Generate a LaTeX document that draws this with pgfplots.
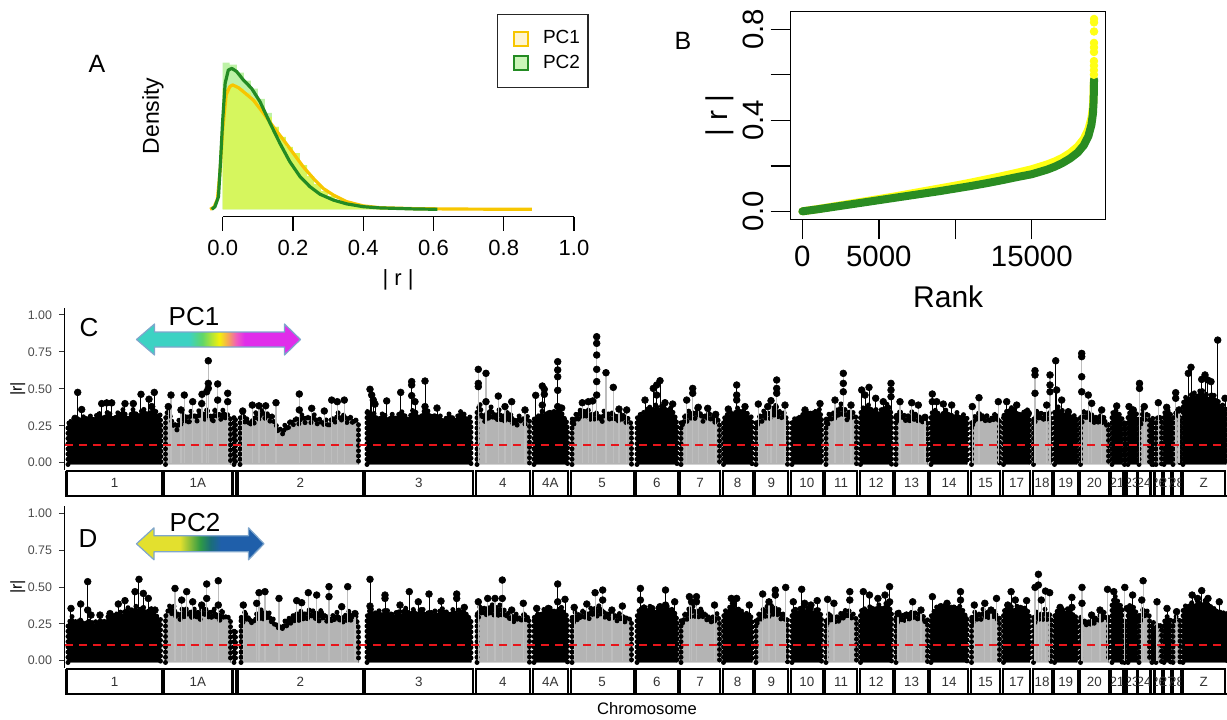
\documentclass[border=0pt]{standalone}
\usepackage{pgfplots}
\pgfplotsset{compat=1.18}
\usepackage{fontspec}
\setmainfont{Liberation Sans}

\definecolor{pcgold}{HTML}{F7C600}
\definecolor{pcgreen}{HTML}{238B23}
\definecolor{histlime}{HTML}{D6F65E}
\definecolor{histgreen}{HTML}{BDF2A6}
\definecolor{byellow}{HTML}{FFFF14}
\definecolor{bgreen}{HTML}{2A8C22}
\definecolor{chrgray}{HTML}{B4B4B4}
\definecolor{stemgray}{HTML}{BEBEBE}
\definecolor{dashred}{HTML}{E8151B}
\definecolor{arrowedge}{HTML}{7FA6CC}
\definecolor{aTeal}{HTML}{3CD2C3}
\definecolor{aGreen}{HTML}{5FD66A}
\definecolor{aYellow}{HTML}{F4F10A}
\definecolor{aOrange}{HTML}{F6A45A}
\definecolor{aPink}{HTML}{F05AC0}
\definecolor{aMag}{HTML}{E02DEA}
\definecolor{bYel}{HTML}{E3E02E}
\definecolor{bGrn}{HTML}{2E9A45}
\definecolor{bTeal}{HTML}{1A6E78}
\definecolor{bBlue}{HTML}{1F5FAA}

\pgfdeclarehorizontalshading{pcone}{100bp}{color(0bp)=(aTeal); color(41bp)=(aTeal); color(45bp)=(aGreen); color(50.25bp)=(aYellow); color(53bp)=(aOrange); color(55.5bp)=(aPink); color(58bp)=(aMag); color(100bp)=(aMag)}
\pgfdeclarehorizontalshading{pctwo}{100bp}{color(0bp)=(bYel); color(42bp)=(bYel); color(50bp)=(bGrn); color(54bp)=(bTeal); color(58bp)=(bBlue); color(100bp)=(bBlue)}

\tikzset{dotedge/.style={postaction={draw=black, line width=2.5pt, line cap=round, dash pattern=on 0pt off 2.6pt}}}
\newcommand{\envB}[1]{\addplot[fill=black,draw=black,line width=0.7pt,line join=round,dotedge] coordinates {#1};}
\newcommand{\envG}[1]{\addplot[fill=chrgray,draw=black,line width=0.7pt,line join=round,dotedge] coordinates {#1};}
\newcommand{\pkB}[1]{\addplot[ycomb,draw=black,line width=0.5pt,mark=*,mark size=1.7pt,mark options={fill=black,draw=black,line width=0.3pt}] coordinates {#1};}
\newcommand{\pkG}[1]{\addplot[ycomb,draw=stemgray,line width=0.6pt,mark=*,mark size=1.7pt,mark options={fill=black,draw=black,line width=0.3pt}] coordinates {#1};}

\pgfplotsset{manh/.style={anchor=south west, scale only axis, width=581pt,
  xmin=65, xmax=1227, ymin=-0.05, ymax=1.05,
  axis x line=none, axis y line*=left, y axis line style={-,line width=0.5pt,black},
  xtick=\empty, ytick={0,0.25,0.5,0.75,1}, yticklabels={0.00,0.25,0.50,0.75,1.00},
  tick align=outside, major tick length=3pt, tick style={black!80,line width=0.5pt},
  yticklabel style={font=\fontsize{6.2}{7}\selectfont, text=black!70},
  ylabel={|r|}, ylabel style={font=\fontsize{8}{9}\selectfont, at={(axis description cs:-0.0406,0.5)}, anchor=center},
  clip=false}}

\begin{document}
\begin{tikzpicture}
\useasboundingbox (0pt,0pt) rectangle (613.5pt,359.5pt);

% ---------------- Panel A ----------------
\begin{axis}[at={(111.35pt,251.15pt)}, anchor=south west, scale only axis,
  width=175.65pt, height=79.07pt, xmin=0, xmax=1, ymin=-0.368, ymax=7.5,
  axis x line*=bottom, axis y line=none, x axis line style={-,line width=0.55pt},
  xtick={0,0.2,0.4,0.6,0.8,1}, xticklabels={0.0,0.2,0.4,0.6,0.8,1.0}, ytick=\empty,
  tick align=outside, major tick length=7pt, tick style={black,line width=0.55pt},
  xticklabel style={font=\fontsize{11}{13}\selectfont, yshift=-1pt},
  xlabel={| r |}, xlabel style={font=\fontsize{11}{13}\selectfont, at={(axis description cs:0.499,-0.40)}, anchor=center},
  clip=false,
  legend image code/.code={\path (0pt,0pt); \draw[#1] (6pt,-3.5pt) rectangle (13pt,3.5pt);},
  legend style={at={(0.78,1.2817)}, anchor=north west, draw=black!85, line width=0.7pt,
    font=\fontsize{9.5}{11}\selectfont, inner xsep=2pt, inner ysep=6pt, row sep=0pt,
    nodes={inner sep=2pt}, column sep=5pt},
  legend cell align=left]
% PC2 histogram
\addplot[forget plot, const plot mark left, fill=histgreen, draw=none] coordinates {
(0,0) (0,7.3) (0.02,7.2) (0.04,6.8) (0.06,6.4) (0.08,6.0) (0.10,5.5) (0.12,4.8) (0.14,4.1)
(0.16,3.4) (0.18,2.7) (0.20,2.1) (0.22,1.6) (0.24,1.2) (0.26,0.85) (0.28,0.6) (0.30,0.42)
(0.32,0.3) (0.34,0.2) (0.36,0.14) (0.38,0.1) (0.40,0.07) (0.42,0.05) (0.44,0.04) (0.46,0.03)
(0.48,0.02) (0.50,0.01) (0.6,0)};
% PC1 histogram
\addplot[forget plot, const plot mark left, fill=histlime, draw=none] coordinates {
(0,0) (0,6.0) (0.02,6.2) (0.04,6.0) (0.06,5.8) (0.08,5.5) (0.10,5.1) (0.12,4.6) (0.14,4.1)
(0.16,3.6) (0.18,3.1) (0.20,2.8) (0.22,2.2) (0.24,1.65) (0.26,1.25) (0.28,0.9) (0.30,0.65)
(0.32,0.45) (0.34,0.32) (0.36,0.22) (0.38,0.15) (0.40,0.1) (0.42,0.07) (0.44,0.05) (0.46,0.04)
(0.50,0.03) (0.56,0.02) (0.64,0.01) (0.88,0)};
% PC1 density
\addplot[forget plot, pcgold, line width=1.6pt, line join=round] coordinates {
(-0.036,0) (-0.025,0.1) (-0.015,0.5) (-0.007,2.0) (0,4.0) (0.01,5.7) (0.02,6.1) (0.028,6.19)
(0.045,6.05) (0.059,5.85) (0.087,5.44) (0.116,4.78) (0.144,4.11) (0.173,3.45) (0.201,2.79)
(0.229,2.12) (0.258,1.54) (0.286,1.04) (0.315,0.71) (0.353,0.38) (0.400,0.17) (0.447,0.08)
(0.55,0.03) (0.70,0.01) (0.88,0)};
% PC2 density
\addplot[forget plot, pcgreen, line width=1.6pt, line join=round] coordinates {
(-0.031,0) (-0.022,0.13) (-0.012,0.63) (-0.006,2.45) (0,4.44) (0.007,6.27) (0.016,6.93)
(0.026,7.01) (0.040,6.85) (0.059,6.43) (0.082,6.02) (0.106,5.36) (0.135,4.28) (0.163,3.28)
(0.191,2.37) (0.220,1.63) (0.248,1.13) (0.277,0.75) (0.315,0.46) (0.353,0.27) (0.400,0.13)
(0.447,0.07) (0.542,0.02) (0.611,0)};
\addlegendimage{draw=pcgold, fill=pcgold!18, line width=0.8pt}
\addlegendentry{PC1}
\addlegendimage{draw=pcgreen, fill=histgreen!80, line width=0.8pt}
\addlegendentry{PC2}
\end{axis}

% ---------------- Panel B ----------------
\begin{axis}[at={(395.35pt,249.85pt)}, anchor=south west, scale only axis,
  width=157.5pt, height=103.8pt, xmin=-763, xmax=19833, ymin=-0.035, ymax=0.877,
  axis line style={line width=0.7pt}, tick pos=left, tick align=outside, major tick length=10pt,
  tick style={black, line width=0.7pt}, scaled x ticks=false, scaled y ticks=false,
  xtick={0,5000,10000,15000}, xticklabels={0,5000,{},15000},
  ytick={0,0.2,0.4,0.6,0.8}, yticklabels={0.0,{},0.4,{},0.8},
  tick label style={font=\fontsize{14.7}{16}\selectfont},
  yticklabel style={rotate=90, anchor=south},
  xlabel={Rank}, xlabel style={font=\fontsize{15}{17}\selectfont, at={(axis description cs:0.5,-0.373)}, anchor=center},
  ylabel={| r |}, ylabel style={font=\fontsize{15}{17}\selectfont, at={(axis description cs:-0.2244,0.5)}, anchor=center}]
\addplot[byellow, line width=4pt, line cap=round, line join=round] coordinates {
(0,0) (1000,0.010) (2000,0.021) (3000,0.032) (4000,0.043) (5000,0.054) (6000,0.065)
(7000,0.077) (8000,0.089) (9000,0.101) (10000,0.113) (11000,0.126) (12000,0.140)
(13000,0.154) (14000,0.169) (15000,0.185) (16000,0.206) (16500,0.219) (17000,0.235)
(17500,0.256) (18000,0.284) (18400,0.318) (18700,0.36) (18900,0.41) (19000,0.46)
(19040,0.52) (19060,0.58)};
\addplot[only marks, mark=*, mark size=1.9pt, byellow] coordinates {
(19062,0.60) (19063,0.62) (19064,0.64) (19065,0.66) (19066,0.70) (19067,0.72)
(19068,0.74) (19069,0.79) (19070,0.83) (19071,0.845)};
\addplot[bgreen, line width=4pt, line cap=round, line join=round] coordinates {
(0,0) (1000,0.009) (2000,0.019) (3000,0.029) (4000,0.039) (5000,0.049) (6000,0.059)
(7000,0.069) (8000,0.079) (9000,0.089) (10000,0.10) (11000,0.111) (12000,0.123)
(13000,0.136) (14000,0.150) (15000,0.163) (16000,0.183) (16500,0.196) (17000,0.212)
(17500,0.232) (18000,0.258) (18400,0.29) (18700,0.33) (18900,0.38) (19000,0.43)
(19040,0.48) (19060,0.53) (19070,0.58)};
\end{axis}

% ---------------- Panel C ----------------
\begin{axis}[manh, at={(32.5pt,124.46pt)}, height=81.235pt]
\envB{(68,-0.012)(68,0.25)(70,0.29)(72,0.26)(74,0.27)(76,0.30)(78,0.31)(80,0.27)(82,0.29)(84,0.32)(86,0.30)(88,0.28)(90,0.32)(93,0.29)(95,0.30)(98,0.34)(100,0.33)(103,0.29)(105,0.31)(108,0.35)(110,0.33)(113,0.29)(115,0.30)(118,0.34)(120,0.32)(123,0.36)(125,0.33)(128,0.30)(130,0.31)(133,0.36)(135,0.34)(138,0.31)(140,0.33)(143,0.37)(145,0.35)(148,0.32)(150,0.34)(153,0.37)(155,0.36)(158,0.31)(160,0.33)(161,0.25)(161,-0.012)}
\envG{(165.5,-0.012)(165.5,0.30)(168,0.36)(171,0.30)(173,0.25)(175,0.27)(177,0.22)(179,0.29)(181,0.26)(183,0.34)(185,0.28)(187,0.31)(189,0.26)(191,0.35)(193,0.30)(195,0.33)(197,0.28)(199,0.36)(201,0.31)(203,0.34)(205,0.29)(207,0.37)(209,0.30)(211,0.32)(213,0.27)(215,0.37)(217,0.31)(219,0.33)(221,0.29)(223,0.36)(225,0.30)(227,0.33)(230.5,0.30)(230.5,-0.012)}
\envB{(234,-0.012)(234,0.31)(235.5,0.31)(235.5,-0.012)}
\envG{(240,-0.012)(240,0.30)(243,0.34)(245,0.27)(247,0.30)(250,0.25)(252,0.29)(254,0.26)(256,0.35)(259,0.29)(262,0.36)(265,0.30)(268,0.34)(270,0.28)(272,0.33)(274,0.27)(276,0.26)(278,0.21)(280,0.23)(283,0.19)(285,0.26)(288,0.22)(290,0.29)(293,0.25)(296,0.31)(299,0.26)(302,0.33)(305,0.27)(308,0.32)(311,0.27)(314,0.33)(317,0.26)(320,0.30)(323,0.25)(326,0.29)(329,0.24)(332,0.31)(335,0.27)(338,0.34)(341,0.28)(344,0.33)(347,0.27)(350,0.32)(353,0.26)(355,0.30)(358.5,0.26)(358.5,-0.012)}
\envB{(367,-0.012)(367,0.36)(370,0.30)(372,0.34)(375,0.33)(377,0.29)(380,0.30)(383,0.34)(386,0.31)(389,0.28)(392,0.33)(395,0.30)(398,0.32)(401,0.35)(404,0.33)(407,0.29)(410,0.31)(413,0.36)(416,0.34)(419,0.30)(422,0.32)(425,0.36)(428,0.35)(431,0.30)(434,0.33)(437,0.29)(440,0.32)(443,0.28)(446,0.30)(449,0.33)(452,0.31)(455,0.28)(458,0.32)(461,0.35)(464,0.33)(467,0.29)(470,0.31)(471,0.25)(471,-0.012)}
\envG{(477,-0.012)(477,0.34)(480,0.40)(482,0.30)(483,0.33)(485,0.27)(487,0.35)(489,0.29)(491,0.38)(493,0.30)(495,0.33)(497,0.28)(499,0.36)(501,0.29)(503,0.32)(505,0.27)(507,0.35)(509,0.28)(511,0.33)(513,0.26)(515,0.30)(517,0.25)(519,0.32)(521,0.27)(523,0.31)(525,0.26)(527,0.32)(529.5,0.28)(529.5,-0.012)}
\envB{(534,-0.012)(534,0.30)(536,0.27)(538,0.33)(540,0.30)(542,0.35)(544,0.31)(546,0.32)(548,0.35)(550,0.34)(552,0.31)(554,0.36)(556,0.33)(558,0.34)(560,0.37)(562,0.33)(564,0.30)(566,0.30)(567.5,0.22)(567.5,-0.012)}
\envG{(572,-0.012)(572,0.30)(574,0.26)(576,0.33)(578,0.28)(580,0.36)(582,0.30)(584,0.36)(586,0.31)(588,0.37)(590,0.29)(592,0.33)(594,0.28)(596,0.35)(598,0.29)(600,0.32)(602,0.27)(604,0.35)(606,0.30)(608,0.34)(610,0.28)(612,0.35)(614,0.29)(616,0.32)(618,0.27)(620,0.34)(622,0.29)(624,0.33)(626,0.27)(628,0.30)(631.5,0.26)(631.5,-0.012)}
\envB{(637,-0.012)(637,0.30)(640,0.33)(642,0.30)(644,0.35)(646,0.32)(648,0.34)(650,0.38)(652,0.37)(654,0.34)(656,0.40)(658,0.35)(660,0.36)(662,0.39)(664,0.38)(666,0.33)(668,0.35)(670,0.38)(672,0.36)(674,0.32)(676,0.30)(677,0.24)(677,-0.012)}
\envG{(681,-0.012)(681,0.28)(683,0.25)(685,0.33)(687,0.28)(689,0.36)(691,0.30)(693,0.35)(695,0.30)(697,0.38)(699,0.31)(701,0.34)(703,0.28)(705,0.33)(707,0.29)(709,0.35)(711,0.28)(713,0.32)(715,0.27)(717,0.31)(719.5,0.26)(719.5,-0.012)}
\envB{(723.5,-0.012)(723.5,0.28)(725,0.31)(727,0.33)(729,0.30)(731,0.35)(733,0.32)(735,0.33)(737,0.37)(739,0.37)(741,0.33)(743,0.36)(745,0.33)(747,0.34)(749,0.30)(751,0.32)(752,0.26)(752,-0.012)}
\envG{(756,-0.012)(756,0.28)(758,0.25)(760,0.33)(762,0.28)(764,0.36)(766,0.30)(768,0.35)(770,0.30)(772,0.38)(774,0.32)(776,0.40)(778,0.31)(780,0.36)(782,0.29)(784,0.34)(787.5,0.28)(787.5,-0.012)}
\envB{(792,-0.012)(792,0.28)(795,0.30)(797,0.27)(799,0.32)(801,0.30)(803,0.33)(805,0.30)(807,0.35)(809,0.32)(811,0.34)(813,0.31)(815,0.36)(817,0.33)(819,0.37)(821.5,0.30)(821.5,-0.012)}
\envG{(826,-0.012)(826,0.30)(828,0.26)(829,0.33)(831,0.28)(833,0.35)(835,0.29)(837,0.37)(839,0.31)(841,0.40)(843,0.31)(845,0.36)(847,0.29)(849,0.35)(851,0.29)(853,0.34)(856.5,0.30)(856.5,-0.012)}
\envB{(860.5,-0.012)(860.5,0.33)(862,0.36)(864,0.38)(866,0.35)(868,0.40)(870,0.36)(872,0.37)(874,0.34)(876,0.36)(878,0.33)(880,0.34)(882,0.37)(884,0.36)(886,0.39)(888,0.40)(890,0.35)(891.5,0.33)(891.5,-0.012)}
\envG{(896,-0.012)(896,0.33)(898,0.28)(900,0.36)(902,0.29)(904,0.33)(906,0.27)(908,0.32)(910,0.28)(912,0.35)(914,0.29)(916,0.34)(918,0.28)(920,0.32)(922,0.27)(924,0.30)(927.5,0.28)(927.5,-0.012)}
\envB{(931,-0.012)(931,0.32)(933,0.35)(935,0.36)(937,0.33)(939,0.34)(941,0.31)(943,0.33)(945,0.36)(947,0.35)(949,0.32)(951,0.33)(953,0.30)(955,0.32)(957,0.34)(959,0.31)(961,0.29)(963,0.33)(965,0.31)(967,0.30)(967,-0.012)}
\envG{(971.5,-0.012)(971.5,0.28)(973,0.25)(975,0.32)(977,0.28)(979,0.35)(981,0.29)(983,0.33)(985,0.28)(987,0.32)(989,0.27)(991,0.31)(993,0.28)(995,0.34)(997,0.29)(999.5,0.30)(999.5,-0.012)}
\envB{(1003.5,-0.012)(1003.5,0.33)(1005,0.30)(1007,0.36)(1009,0.33)(1011,0.38)(1013,0.35)(1015,0.36)(1017,0.33)(1019,0.34)(1021,0.31)(1023,0.35)(1025,0.33)(1027,0.37)(1029.5,0.30)(1029.5,-0.012)}
\envG{(1033.5,-0.012)(1033.5,0.30)(1035,0.27)(1037,0.36)(1039,0.29)(1041,0.34)(1043,0.28)(1045,0.33)(1047,0.28)(1049,0.35)(1051,0.30)(1051,-0.012)}
\envB{(1054.5,-0.012)(1054.5,0.35)(1056,0.32)(1058,0.38)(1060,0.34)(1062,0.36)(1064,0.32)(1066,0.34)(1068,0.31)(1070,0.33)(1072,0.30)(1074,0.32)(1077,0.30)(1077,-0.012)}
\envG{(1080.5,-0.012)(1080.5,0.32)(1082,0.27)(1084,0.36)(1086,0.29)(1088,0.34)(1090,0.28)(1092,0.33)(1094,0.27)(1096,0.32)(1098,0.27)(1100,0.33)(1102,0.26)(1104,0.31)(1106,0.25)(1108.5,0.27)(1108.5,-0.012)}
\envB{(1112,-0.012)(1112,0.33)(1115,0.36)(1118,0.34)(1122,0.30)(1122,-0.012)}
\envG{(1124.5,-0.012)(1124.5,0.28)(1125.5,0.28)(1125.5,-0.012)}
\envB{(1128,-0.012)(1128,0.32)(1132,0.36)(1136.5,0.33)(1136.5,-0.012)}
\envG{(1139,-0.012)(1139,0.30)(1141,0.26)(1143,0.36)(1145,0.29)(1147,0.34)(1149.5,0.30)(1149.5,-0.012)}
\envB{(1152,-0.012)(1152,0.30)(1153.5,0.30)(1153.5,-0.012)}
\envG{(1156,-0.012)(1156,0.28)(1158.5,0.32)(1161.5,0.29)(1161.5,-0.012)}
\envB{(1164,-0.012)(1164,0.33)(1167,0.36)(1170.5,0.34)(1170.5,-0.012)}
\envG{(1173,-0.012)(1173,0.30)(1176,0.34)(1180,0.30)(1180,-0.012)}
\envB{(1183,-0.012)(1183,0.40)(1185,0.43)(1186,0.45)(1188,0.41)(1190,0.44)(1192,0.47)(1194,0.48)(1196,0.43)(1198,0.45)(1200,0.49)(1202,0.50)(1204,0.45)(1206,0.47)(1208,0.43)(1210,0.44)(1212,0.47)(1214,0.46)(1216,0.41)(1218,0.42)(1220,0.38)(1222,0.40)(1224,0.37)(1226,0.36)(1226,-0.012)}
% peaks, black chromosomes
\pkB{(75,0.30)(77.7,0.476)(81.7,0.36)(101.7,0.40)(106.7,0.405)(111.7,0.405)(125,0.40)(133.3,0.40)(141,0.463)(149,0.43)(151.7,0.38)(154.3,0.476)
(370,0.497)(371.7,0.458)(373.3,0.424)(375,0.397)(386.7,0.418)(400.7,0.476)(411.7,0.549)(411.7,0.526)(411.7,0.454)(415,0.413)(425,0.553)(425,0.38)(437,0.37)
(535.7,0.456)(542.3,0.519)(542.3,0.39)(544.3,0.497)(544.3,0.463)(557.7,0.684)(557.7,0.628)(557.7,0.582)(557.7,0.49)(557.7,0.38)(561.7,0.37)
(645,0.424)(648.3,0.357)(653.3,0.503)(656.7,0.526)(656.7,0.458)(660,0.555)(665,0.406)(672.7,0.397)
(728.3,0.363)(736.7,0.526)(736.7,0.458)(736.7,0.424)(745,0.38)
(805,0.357)(820,0.40)
(861.7,0.492)(865,0.458)(869,0.51)(875.7,0.436)(883.3,0.413)(891,0.537)(891,0.492)(891,0.447)
(932.3,0.465)(932.3,0.413)(936.7,0.413)(943.3,0.397)(951.7,0.39)
(1006.7,0.413)(1016.7,0.39)(1028.3,0.334)
(1055.7,0.69)(1056.7,0.492)(1061.7,0.424)(1068.3,0.345)
(1116.7,0.384)(1129,0.38)(1133.3,0.357)(1166.7,0.375)
(1188.3,0.605)(1191,0.646)(1201.7,0.564)(1205,0.594)(1207.7,0.56)(1211,0.549)(1217.7,0.83)(1225,0.436)}
% peaks, grey chromosomes
\pkG{(168.3,0.38)(171,0.458)(181,0.357)(184.3,0.458)(192.7,0.413)(201.7,0.40)(202,0.463)(206.7,0.48)(208.3,0.69)(208.3,0.537)(208.3,0.503)(217.7,0.533)(217.7,0.424)(227.7,0.47)(227.7,0.413)
(242.7,0.35)(252.3,0.39)(259,0.385)(265.7,0.385)(276,0.406)(299.3,0.465)(299.3,0.357)(311.7,0.368)(324.3,0.35)(331.7,0.424)(337.3,0.413)(344.3,0.424)
(478.3,0.632)(478.3,0.537)(478.3,0.515)(486,0.605)(486,0.413)(498.3,0.451)(505,0.38)(511.7,0.413)(525,0.357)
(582.3,0.406)(588.3,0.413)(592.7,0.418)(596.7,0.853)(596.7,0.808)(596.7,0.729)(596.7,0.632)(596.7,0.549)(596.7,0.458)(606,0.609)(613.3,0.51)(619,0.363)(626.7,0.357)
(686.7,0.424)(692.7,0.503)(692.7,0.47)(698.3,0.375)(707.7,0.368)(715.7,0.327)
(758.3,0.397)(767.7,0.38)(771,0.42)(776.7,0.56)(776.7,0.503)(776.7,0.47)(785,0.39)
(835,0.424)(843.3,0.605)(843.3,0.537)(843.3,0.48)(851,0.39)
(900,0.413)(911.7,0.406)(918.3,0.39)(925,0.307)
(972.3,0.38)(979,0.44)(998.3,0.413)
(1035,0.623)(1035,0.594)(1035,0.47)(1046.7,0.39)(1050,0.594)(1050,0.526)(1050,0.48)
(1081.7,0.74)(1081.7,0.718)(1081.7,0.582)(1081.7,0.48)(1088.3,0.458)(1091.7,0.402)(1101.7,0.357)
(1139.5,0.537)(1139.5,0.503)(1144.3,0.38)(1158.3,0.406)(1175.7,0.474)(1175.7,0.436)(1179,0.357)}
\addplot[dashred, line width=1pt, dash pattern=on 4pt off 3pt] coordinates {(65,0.12) (1227,0.12)};
\end{axis}

% ---------------- Panel D ----------------
\begin{axis}[manh, at={(32.5pt,25.47pt)}, height=80.96pt]
\envB{(68,-0.012)(68,0.24)(70,0.27)(72,0.30)(74,0.25)(76,0.27)(78,0.24)(80,0.29)(82,0.25)(84,0.26)(86,0.23)(88,0.28)(90,0.25)(92,0.26)(94,0.23)(96,0.27)(98,0.25)(100,0.28)(102,0.24)(104,0.27)(106,0.25)(108,0.30)(110,0.27)(112,0.31)(114,0.28)(116,0.33)(118,0.30)(120,0.34)(122,0.30)(124,0.32)(126,0.35)(128,0.36)(130,0.32)(132,0.35)(134,0.33)(136,0.37)(138,0.33)(140,0.34)(142,0.37)(144,0.36)(146,0.32)(148,0.33)(150,0.36)(152,0.35)(154,0.31)(156,0.31)(158,0.29)(160.5,0.28)(160.5,-0.012)}
\envG{(165.5,-0.012)(165.5,0.30)(168,0.34)(170,0.38)(172,0.31)(174,0.37)(176,0.29)(178,0.33)(180,0.28)(182,0.35)(184,0.29)(186,0.36)(188,0.30)(190,0.34)(192,0.28)(194,0.36)(196,0.29)(198,0.33)(200,0.27)(202,0.37)(204,0.30)(206,0.35)(208,0.29)(210,0.33)(212,0.28)(214,0.36)(216,0.29)(218,0.32)(220,0.27)(222,0.35)(224,0.28)(226,0.31)(230.5,0.28)(230.5,-0.012)}
\envB{(234,-0.012)(234,0.21)(235.5,0.21)(235.5,-0.012)}
\envG{(241,-0.012)(241,0.30)(243,0.26)(245,0.34)(247,0.27)(249,0.30)(251,0.25)(253,0.28)(255,0.26)(257,0.33)(259,0.28)(261,0.35)(263,0.28)(265,0.34)(267,0.28)(269,0.33)(271,0.26)(273,0.29)(275,0.23)(277,0.25)(279,0.21)(281,0.24)(283,0.21)(285,0.27)(287,0.23)(289,0.29)(291,0.25)(293,0.31)(295,0.26)(297,0.33)(299,0.27)(301,0.34)(303,0.28)(305,0.32)(307,0.27)(309,0.35)(311,0.29)(313,0.34)(315,0.28)(317,0.33)(319,0.27)(321,0.35)(323,0.28)(325,0.32)(327,0.26)(329,0.30)(331,0.26)(333,0.31)(335,0.27)(337,0.33)(339,0.27)(341,0.30)(343,0.26)(345,0.32)(347,0.27)(349,0.34)(351,0.27)(353,0.31)(356,0.30)(358.5,0.22)(358.5,-0.012)}
\envB{(367,-0.012)(367,0.30)(369,0.33)(371,0.36)(373,0.31)(375,0.33)(377,0.30)(379,0.34)(381,0.31)(383,0.32)(385,0.35)(387,0.35)(389,0.31)(391,0.33)(393,0.29)(395,0.31)(397,0.34)(399,0.34)(401,0.30)(403,0.33)(405,0.36)(407,0.35)(409,0.31)(411,0.32)(413,0.35)(415,0.34)(417,0.30)(419,0.33)(421,0.36)(423,0.35)(425,0.31)(427,0.31)(429,0.34)(431,0.33)(433,0.30)(435,0.34)(437,0.31)(439,0.32)(441,0.36)(443,0.35)(445,0.31)(447,0.34)(449,0.30)(451,0.32)(453,0.35)(455,0.33)(457,0.30)(459,0.35)(461,0.32)(463,0.34)(465,0.31)(467,0.32)(469,0.29)(471,0.28)(471,-0.012)}
\envG{(477,-0.012)(477,0.33)(478.5,0.29)(480,0.38)(482,0.31)(484,0.36)(486,0.30)(488,0.37)(490,0.31)(492,0.39)(494,0.31)(496,0.37)(498,0.30)(500,0.38)(502,0.30)(504,0.35)(506,0.29)(508,0.33)(510,0.27)(512,0.31)(514,0.26)(516,0.32)(518,0.27)(520,0.30)(522,0.26)(524,0.33)(526,0.27)(528,0.30)(529.5,0.25)(529.5,-0.012)}
\envB{(534,-0.012)(534,0.30)(536,0.27)(538,0.33)(540,0.30)(542,0.32)(544,0.35)(546,0.34)(548,0.31)(550,0.36)(552,0.33)(554,0.35)(556,0.31)(558,0.33)(560,0.37)(562,0.36)(564,0.32)(566,0.32)(567.5,0.27)(567.5,-0.012)}
\envG{(572,-0.012)(572,0.30)(573.5,0.26)(575,0.33)(577,0.27)(579,0.32)(581,0.28)(583,0.35)(585,0.29)(587,0.33)(589,0.28)(591,0.37)(593,0.30)(595,0.36)(597,0.30)(599,0.38)(601,0.31)(603,0.35)(605,0.29)(607,0.33)(609,0.28)(611,0.34)(613,0.28)(615,0.32)(617,0.27)(619,0.33)(621,0.27)(623,0.31)(625,0.26)(627,0.30)(631.5,0.27)(631.5,-0.012)}
\envB{(637,-0.012)(637,0.30)(638.5,0.33)(640,0.36)(642,0.34)(644,0.38)(646,0.34)(648,0.34)(650,0.37)(652,0.35)(654,0.32)(656,0.33)(658,0.36)(660,0.36)(662,0.33)(664,0.34)(666,0.37)(668,0.37)(670,0.33)(672,0.35)(674,0.33)(676,0.31)(677,0.26)(677,-0.012)}
\envG{(681,-0.012)(681,0.28)(683,0.25)(685,0.33)(687,0.28)(689,0.36)(691,0.30)(693,0.37)(695,0.30)(697,0.35)(699,0.29)(701,0.36)(703,0.29)(705,0.33)(707,0.27)(709,0.31)(711,0.26)(713,0.30)(715,0.26)(717,0.32)(719.5,0.27)(719.5,-0.012)}
\envB{(723.5,-0.012)(723.5,0.30)(725,0.33)(726,0.35)(728,0.33)(730,0.37)(732,0.35)(734,0.38)(736,0.34)(738,0.36)(740,0.33)(742,0.34)(744,0.31)(746,0.33)(748,0.30)(750,0.32)(752,0.27)(752,-0.012)}
\envG{(756,-0.012)(756,0.28)(757.5,0.25)(759,0.33)(761,0.28)(763,0.35)(765,0.29)(767,0.37)(769,0.30)(771,0.39)(773,0.31)(775,0.37)(777,0.30)(779,0.35)(781,0.28)(783,0.33)(785,0.28)(787.5,0.29)(787.5,-0.012)}
\envB{(792,-0.012)(792,0.32)(793.5,0.34)(795,0.36)(797,0.32)(799,0.34)(801,0.37)(803,0.37)(805,0.33)(807,0.35)(809,0.37)(811,0.36)(813,0.32)(815,0.33)(817,0.36)(819,0.34)(821.5,0.30)(821.5,-0.012)}
\envG{(826,-0.012)(826,0.28)(827.5,0.25)(829,0.33)(831,0.27)(833,0.31)(835,0.26)(837,0.30)(839,0.26)(841,0.33)(843,0.28)(845,0.35)(847,0.29)(849,0.34)(851,0.28)(853,0.32)(856.5,0.28)(856.5,-0.012)}
\envB{(860.5,-0.012)(860.5,0.32)(862,0.35)(864,0.36)(866,0.33)(868,0.34)(870,0.37)(872,0.37)(874,0.34)(876,0.35)(878,0.38)(880,0.38)(882,0.34)(884,0.36)(886,0.39)(888,0.40)(890,0.35)(891.5,0.33)(891.5,-0.012)}
\envG{(896,-0.012)(896,0.30)(897.5,0.26)(899,0.33)(901,0.27)(903,0.31)(905,0.26)(907,0.32)(909,0.27)(911,0.34)(913,0.28)(915,0.33)(917,0.27)(919,0.32)(921,0.27)(923,0.31)(925,0.26)(927.5,0.28)(927.5,-0.012)}
\envB{(931,-0.012)(931,0.30)(933,0.33)(935,0.34)(937,0.37)(939,0.36)(941,0.33)(943,0.35)(945,0.38)(947,0.37)(949,0.34)(951,0.35)(953,0.37)(955,0.36)(957,0.33)(959,0.38)(961,0.35)(963,0.34)(965,0.31)(967,0.30)(967,-0.012)}
\envG{(971.5,-0.012)(971.5,0.30)(973,0.26)(975,0.34)(977,0.28)(979,0.33)(981,0.28)(983,0.35)(985,0.29)(987,0.33)(989,0.28)(991,0.36)(993,0.29)(995,0.34)(997,0.28)(999.5,0.30)(999.5,-0.012)}
\envB{(1003.5,-0.012)(1003.5,0.32)(1005,0.35)(1007,0.36)(1009,0.33)(1011,0.37)(1013,0.35)(1015,0.34)(1017,0.37)(1019,0.36)(1021,0.32)(1023,0.33)(1025,0.36)(1027,0.35)(1029.5,0.30)(1029.5,-0.012)}
\envG{(1033.5,-0.012)(1033.5,0.30)(1035,0.26)(1037,0.34)(1039,0.28)(1041,0.33)(1043,0.28)(1045,0.35)(1047,0.28)(1049,0.33)(1051,0.28)(1051,-0.012)}
\envB{(1054.5,-0.012)(1054.5,0.30)(1056,0.33)(1058,0.34)(1060,0.37)(1062,0.36)(1064,0.32)(1066,0.33)(1068,0.36)(1070,0.34)(1072,0.31)(1074,0.32)(1077,0.28)(1077,-0.012)}
\envG{(1080.5,-0.012)(1080.5,0.30)(1082,0.26)(1084,0.28)(1086,0.24)(1088,0.27)(1090,0.24)(1092,0.28)(1094,0.25)(1096,0.30)(1098,0.26)(1100,0.31)(1102,0.27)(1104,0.33)(1106,0.28)(1108.5,0.30)(1108.5,-0.012)}
\envB{(1112,-0.012)(1112,0.38)(1115,0.44)(1118,0.40)(1122,0.36)(1122,-0.012)}
\envG{(1124.5,-0.012)(1124.5,0.27)(1125.5,0.27)(1125.5,-0.012)}
\envB{(1128,-0.012)(1128,0.34)(1130,0.38)(1134,0.36)(1136.5,0.32)(1136.5,-0.012)}
\envG{(1139,-0.012)(1139,0.32)(1141,0.27)(1143,0.36)(1145,0.29)(1147,0.34)(1149.5,0.30)(1149.5,-0.012)}
\envB{(1152,-0.012)(1152,0.26)(1153.5,0.26)(1153.5,-0.012)}
\envG{(1156,-0.012)(1156,0.22)(1158.5,0.25)(1161.5,0.23)(1161.5,-0.012)}
\envB{(1164,-0.012)(1164,0.26)(1167,0.30)(1170.5,0.28)(1170.5,-0.012)}
\envG{(1173,-0.012)(1173,0.26)(1176,0.30)(1180,0.27)(1180,-0.012)}
\envB{(1183,-0.012)(1183,0.34)(1185,0.37)(1187,0.38)(1189,0.35)(1191,0.40)(1193,0.38)(1195,0.37)(1197,0.40)(1199,0.41)(1201,0.37)(1203,0.38)(1205,0.41)(1207,0.40)(1209,0.36)(1211,0.37)(1213,0.35)(1215,0.36)(1217,0.33)(1219,0.34)(1221,0.32)(1223,0.33)(1225,0.31)(1227,0.32)(1227,-0.012)}
\pkB{(71,0.355)(80.7,0.385)(87.7,0.537)(87.7,0.344)(91,0.31)(100,0.31)(110,0.32)(118.3,0.385)(125,0.408)(135,0.469)(139,0.553)(143.3,0.457)(148.3,0.423)(155,0.344)
(370,0.553)(370,0.371)(385,0.446)(385,0.423)(400,0.378)(409.3,0.469)(418.3,0.40)(429,0.453)(441,0.405)(456.7,0.453)(456.7,0.423)(464.3,0.362)
(536.7,0.355)(548.3,0.355)(557.7,0.521)(557.7,0.40)(565,0.417)
(640.4,0.491)(640.4,0.412)(651.7,0.355)(660,0.367)(665.5,0.48)(665.5,0.378)(674.7,0.40)
(731.3,0.423)(733.4,0.39)(736.7,0.423)(749.3,0.378)
(793.3,0.40)(801.7,0.485)(804.6,0.39)(810.9,0.378)(817.2,0.408)
(863.3,0.469)(869.5,0.446)(877.9,0.423)(885,0.446)(889.6,0.503)(889.6,0.40)
(932.4,0.435)(940.8,0.367)(947,0.39)(951.2,0.355)(960.5,0.469)(960.5,0.412)
(1007.8,0.378)(1011.1,0.469)(1015.3,0.412)(1020.4,0.355)(1026.6,0.408)
(1060.1,0.362)(1071.9,0.43)(1071.9,0.362)
(1113.8,0.469)(1127.2,0.355)(1132.6,0.446)(1167,0.355)
(1192.1,0.446)(1197.6,0.423)(1201.7,0.476)(1208,0.423)(1219.3,0.40)}
\pkG{(175,0.491)(181.7,0.412)(186.7,0.469)(192.7,0.40)(201.7,0.378)(206.7,0.521)(206.7,0.423)(218.3,0.543)(218.3,0.378)
(243.3,0.378)(256.7,0.39)(259,0.462)(265,0.469)(279,0.423)(296.7,0.408)(301.7,0.394)(308.3,0.462)(316.7,0.446)(329,0.503)(329,0.435)(341.7,0.367)(347.7,0.503)(355,0.32)
(478.3,0.40)(487.7,0.423)(495,0.423)(502.3,0.548)(502.3,0.423)(511.7,0.344)(523.3,0.39)
(574.2,0.362)(586.8,0.385)(595.1,0.462)(602.7,0.48)(602.7,0.412)(611.9,0.344)(622.4,0.371)
(689.4,0.435)(691.5,0.40)(696.5,0.435)(696.5,0.40)(714.5,0.378)
(762.7,0.453)(769,0.40)(775.3,0.48)(775.3,0.446)(785.7,0.498)
(827.6,0.417)(833.9,0.39)(849.8,0.469)(849.8,0.412)
(898,0.32)(906.4,0.31)(912.7,0.40)(921,0.344)
(974.3,0.378)(984.8,0.39)(991,0.344)(996.5,0.423)
(1035,0.498)(1038.4,0.587)(1038.4,0.514)(1041.3,0.412)(1045.5,0.473)(1049.7,0.462)
(1082,0.498)(1082,0.39)(1091.6,0.31)(1100,0.344)(1107.5,0.485)
(1124.8,0.498)(1141.8,0.412)(1143.1,0.543)(1157,0.40)(1176.6,0.333)}
\addplot[dashred, line width=1pt, dash pattern=on 4pt off 3pt] coordinates {(65,0.105) (1227,0.105)};
\end{axis}

% ---------------- annotations in pixel coordinates ----------------
\begin{scope}[x=0.5pt,y=-0.5pt,shift={(0pt,359.5pt)}]
\node[font=\fontsize{12.5}{14}\selectfont] at (97,64) {A};
\node[font=\fontsize{12.5}{14}\selectfont] at (683,41) {B};
\node[font=\fontsize{11.5}{13}\selectfont, rotate=90] at (153,116) {Density};
\node[font=\fontsize{13}{15}\selectfont] at (89,328) {C};
\node[font=\fontsize{13}{15}\selectfont] at (88,539) {D};
\node[font=\fontsize{13}{15}\selectfont] at (194,317) {PC1};
\node[font=\fontsize{13}{15}\selectfont] at (195,523) {PC2};
\path[shading=pcone, draw=arrowedge, line width=0.6pt, line join=round]
  (136.5,339.5) -- (154.5,324) -- (154.5,332) -- (284.5,332) -- (284.5,324) -- (300.5,339.5)
  -- (284.5,355) -- (284.5,347) -- (154.5,347) -- (154.5,355) -- cycle;
\path[shading=pctwo, draw=arrowedge, line width=0.6pt, line join=round]
  (136.5,543.8) -- (154,527.8) -- (154,535.8) -- (248.5,535.8) -- (248.5,527.8) -- (264,543.8)
  -- (248.5,559.8) -- (248.5,551.8) -- (154,551.8) -- (154,559.8) -- cycle;
% strips
\foreach \yt/\yb in {470.7/495.7, 669/694.3}{
  \draw[line width=0.5pt] (65,\yt) -- (65,\yb);
  \foreach \l/\r/\t in {67/162/1, 164/231.5/1A, 233/236/{}, 237.5/363/2, 365/472.5/3, 475.5/530/4,
     532.5/568/4A, 570.5/633.6/5, 636/677.7/6, 680/720.2/7, 722.6/752.5/8, 754.8/788/9,
     791/822.5/10, 825/857/11, 859.5/892.6/12, 895/928/13, 930.3/968/14, 970.5/1000.4/15,
     1002.8/1030.3/17, 1032.7/1051.6/18, 1053.9/1077.5/19, 1079.5/1109/20, 1111.4/1122.5/21,
     1123.5/1126/{}, 1127/1137.2/23, 1138.3/1150/24, 1151.3/1153.8/{}, 1155.2/1162/26,
     1163.5/1171.2/27, 1172.5/1180.5/28, 1182.5/1224.7/Z}{
    \draw[line width=1pt, fill=white] (\l,\yt) rectangle (\r,\yb);
    \begin{scope}
      \clip (\l,\yt) rectangle (\r,\yb);
      \node[font=\fontsize{6.7}{7}\selectfont, text=black!80] at ({(\l+\r)/2},{(\yt+\yb)/2}) {\t};
    \end{scope}
  }
  \draw[line width=1.1pt] (65,\yb) -- (1227,\yb);
}
\node[font=\fontsize{8.3}{10}\selectfont] at (647,709) {Chromosome};
\end{scope}
\end{tikzpicture}
\end{document}
